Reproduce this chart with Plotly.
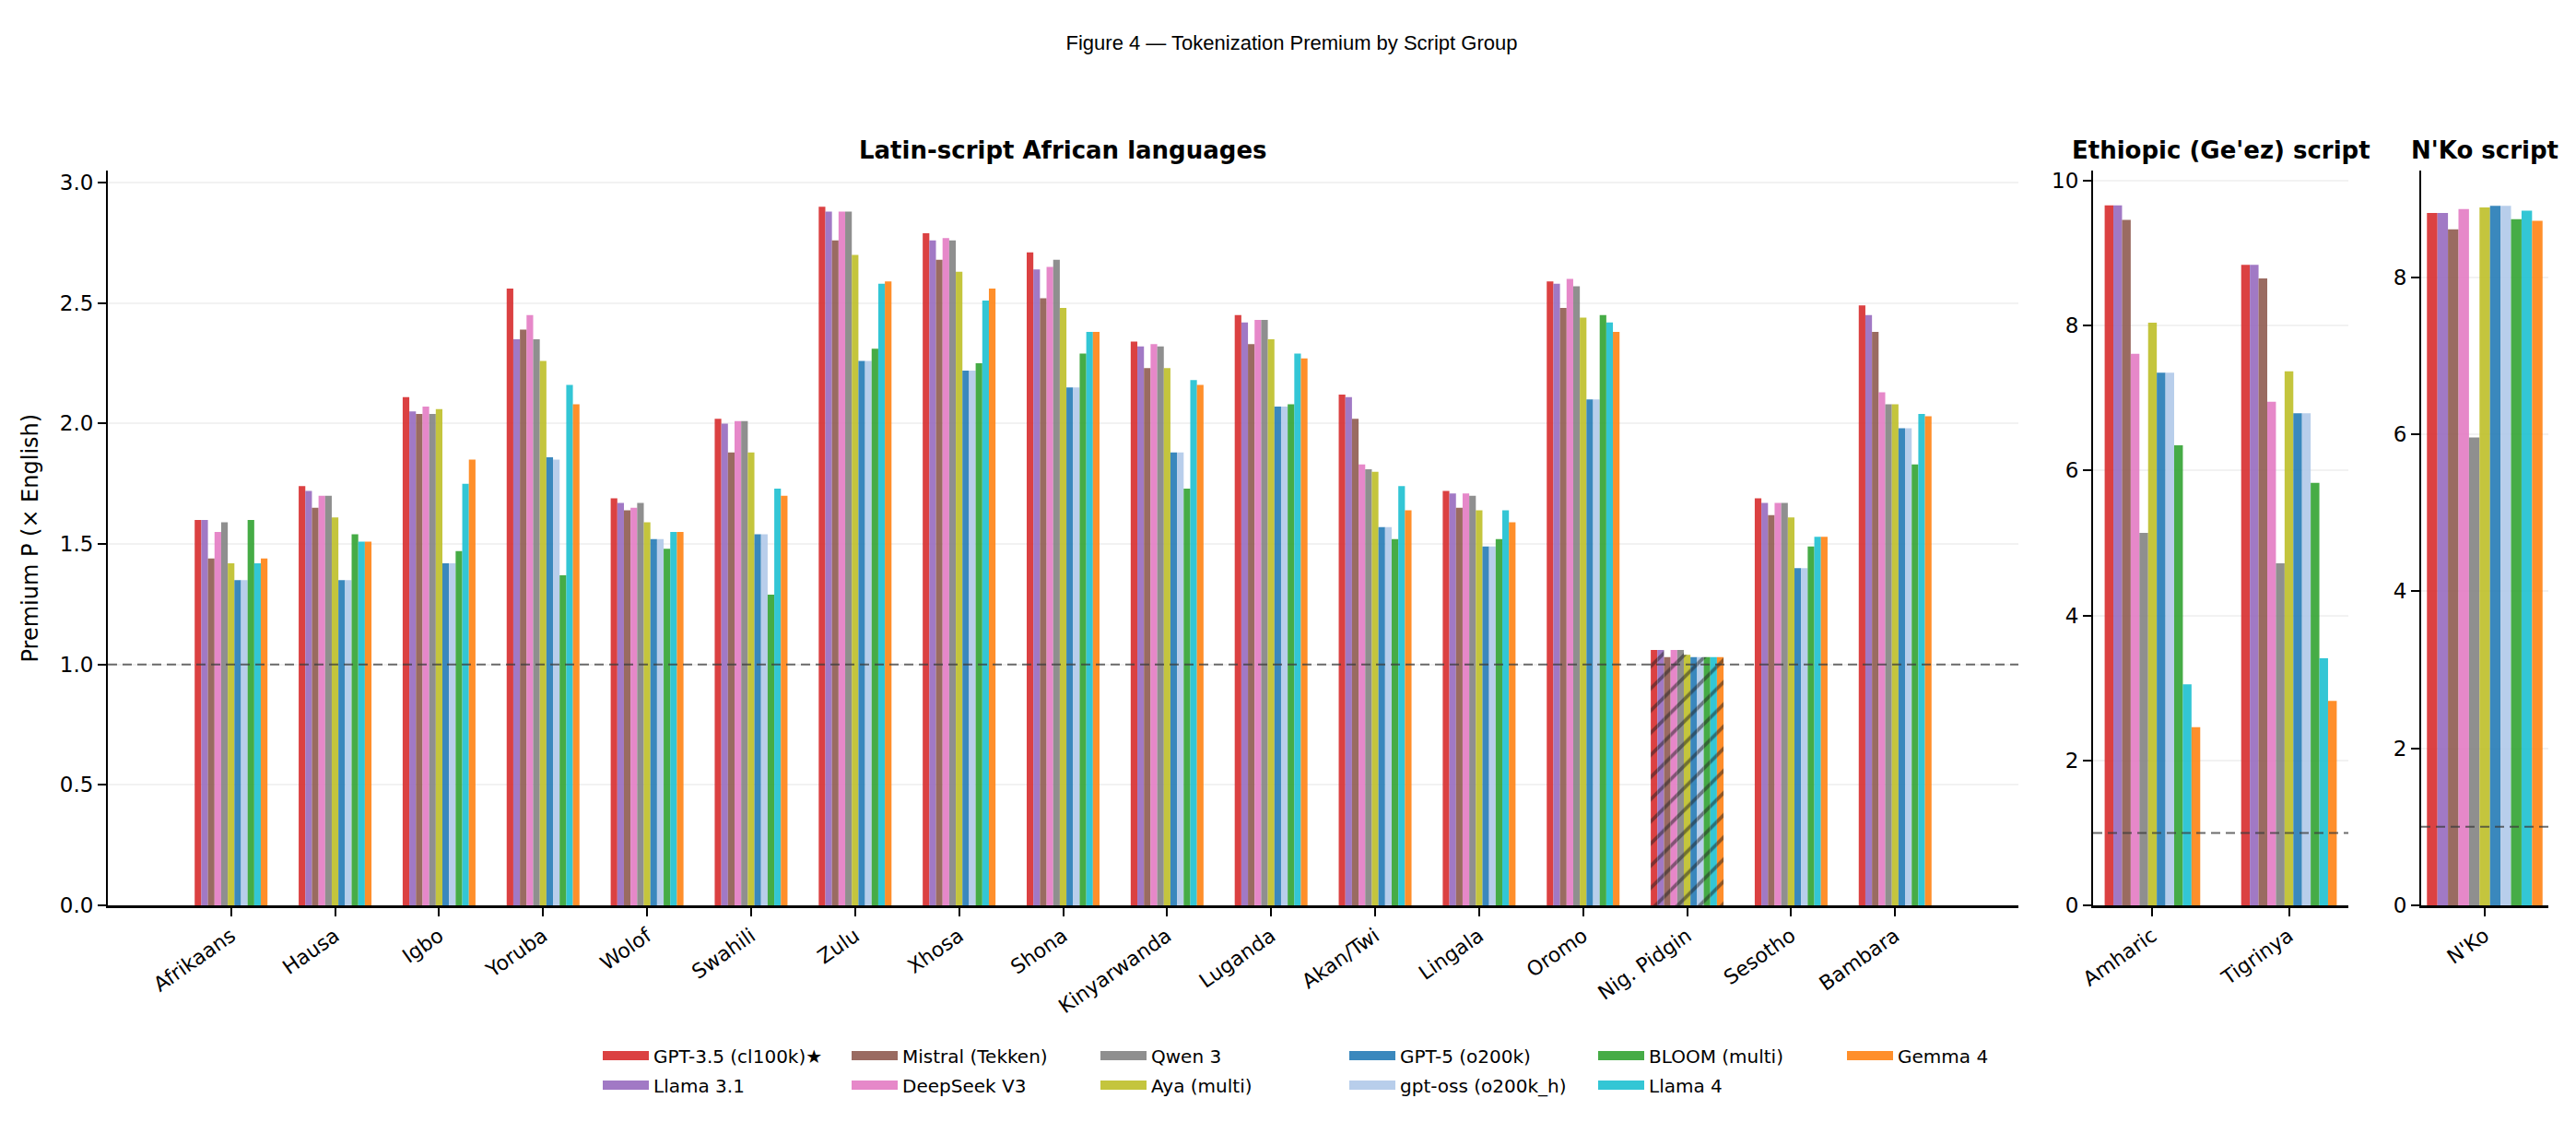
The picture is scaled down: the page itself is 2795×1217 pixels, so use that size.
import plotly.graph_objects as go
from plotly.subplots import make_subplots

# languages per script panel
latin_langs = ["Afrikaans", "Hausa", "Igbo", "Yoruba", "Wolof", "Swahili", "Zulu", "Xhosa",
               "Shona", "Kinyarwanda", "Luganda", "Akan/Twi", "Lingala", "Oromo",
               "Nig. Pidgin", "Sesotho", "Bambara"]
ethiopic_langs = ["Amharic", "Tigrinya"]
nko_langs = ["N'Ko"]

models = ["GPT-3.5 (cl100k)★", "Llama 3.1", "Mistral (Tekken)", "DeepSeek V3", "Qwen 3",
          "Aya (multi)", "GPT-5 (o200k)", "gpt-oss (o200k_h)", "BLOOM (multi)", "Llama 4", "Gemma 4"]
colors = ["#d62728", "#9467bd", "#8c564b", "#e377c2", "#7f7f7f", "#bcbd22",
          "#1f77b4", "#aec7e8", "#2ca02c", "#17becf", "#ff7f0e"]

# premium values: 17 Latin languages, then Amharic, Tigrinya, then N'Ko
gpt35 = [1.60, 1.74, 2.11, 2.56, 1.69, 2.02, 2.90, 2.79, 2.71, 2.34, 2.45, 2.12, 1.72, 2.59, 1.06, 1.69, 2.49, 9.66, 8.84, 8.82]
llama31 = [1.60, 1.72, 2.05, 2.35, 1.67, 2.00, 2.88, 2.76, 2.64, 2.32, 2.42, 2.11, 1.71, 2.58, 1.06, 1.67, 2.45, 9.66, 8.84, 8.82]
mistral = [1.44, 1.65, 2.04, 2.39, 1.64, 1.88, 2.76, 2.68, 2.52, 2.23, 2.33, 2.02, 1.65, 2.48, 1.03, 1.62, 2.38, 9.46, 8.65, 8.61]
deepseek = [1.55, 1.70, 2.07, 2.45, 1.65, 2.01, 2.88, 2.77, 2.65, 2.33, 2.43, 1.83, 1.71, 2.60, 1.06, 1.67, 2.13, 7.61, 6.95, 8.87]
qwen3 = [1.59, 1.70, 2.04, 2.35, 1.67, 2.01, 2.88, 2.76, 2.68, 2.32, 2.43, 1.81, 1.70, 2.57, 1.06, 1.67, 2.08, 5.14, 4.72, 5.96]
aya = [1.42, 1.61, 2.06, 2.26, 1.59, 1.88, 2.70, 2.63, 2.48, 2.23, 2.35, 1.80, 1.64, 2.44, 1.04, 1.61, 2.08, 8.04, 7.37, 8.89]
gpt5 = [1.35, 1.35, 1.42, 1.86, 1.52, 1.54, 2.26, 2.22, 2.15, 1.88, 2.07, 1.57, 1.49, 2.10, 1.03, 1.40, 1.98, 7.35, 6.79, 8.91]
gptoss = [1.35, 1.35, 1.42, 1.85, 1.52, 1.54, 2.26, 2.22, 2.15, 1.88, 2.07, 1.57, 1.49, 2.10, 1.03, 1.40, 1.98, 7.35, 6.79, 8.91]
bloom = [1.60, 1.54, 1.47, 1.37, 1.48, 1.29, 2.31, 2.25, 2.29, 1.73, 2.08, 1.52, 1.52, 2.45, 1.03, 1.49, 1.83, 6.35, 5.83, 8.74]
llama4 = [1.42, 1.51, 1.75, 2.16, 1.55, 1.73, 2.58, 2.51, 2.38, 2.18, 2.29, 1.74, 1.64, 2.42, 1.03, 1.53, 2.04, 3.05, 3.41, 8.85]
gemma4 = [1.44, 1.51, 1.85, 2.08, 1.55, 1.70, 2.59, 2.56, 2.38, 2.16, 2.27, 1.64, 1.59, 2.38, 1.03, 1.53, 2.03, 2.46, 2.82, 8.72]

series = [gpt35, llama31, mistral, deepseek, qwen3, aya, gpt5, gptoss, bloom, llama4, gemma4]

# page is 2795x1217; the html body adds an 8px margin, so the figure is a bit smaller
W, H = 2795, 1217
OFF = 8
FW, FH = W - OFF, H - OFF
FONT = "DejaVu Sans"
ALPHA = 0.88


def px_x(p):
    return (p - OFF) / FW


def px_y(p):
    return 1 - (p - OFF) / FH


fig = make_subplots(rows=1, cols=3)

n_lat = len(latin_langs)
n_eth = len(ethiopic_langs)
hatch = ["/" if lang == "Nig. Pidgin" else "" for lang in latin_langs]

for i, (name, color, vals) in enumerate(zip(models, colors, series)):
    panels = [
        (latin_langs, vals[:n_lat], 1),
        (ethiopic_langs, vals[n_lat:n_lat + n_eth], 2),
        (nko_langs, vals[n_lat + n_eth:], 3),
    ]
    for langs, v, col in panels:
        marker = dict(color=color, opacity=ALPHA, line=dict(width=0))
        if col == 1:
            marker["pattern"] = dict(shape=hatch, fgcolor="black", size=17, solidity=0.22)
        fig.add_trace(go.Bar(x=langs, y=v, name=name, marker=marker,
                             legendgroup=name, showlegend=False),
                      row=1, col=col)
    # legend-only entry drawn as a wide patch
    fig.add_trace(go.Scatter(x=[None], y=[None], mode="lines", name=name, legendgroup=name,
                             line=dict(color=color, width=16), opacity=ALPHA,
                             legend="legend" if i % 2 == 0 else "legend2"),
                  row=1, col=1)

# axes geometry (page pixels -> paper fractions)
x_doms = [(px_x(117), px_x(2190)), (px_x(2271), px_x(2548)), (px_x(2627), px_x(2765))]
y_dom = (px_y(982), px_y(185))
x_ranges = [[-1.185, n_lat - 1 + 1.185], [-0.435, 1.435], [-0.385, 0.385]]
y_ranges = [[0, 3.05], [0, 10.14], [0, 9.36]]
y_ticks = [[0, 0.5, 1.0, 1.5, 2.0, 2.5, 3.0], [0, 2, 4, 6, 8, 10], [0, 2, 4, 6, 8]]

for k in range(3):
    sx = "xaxis" if k == 0 else f"xaxis{k + 1}"
    sy = "yaxis" if k == 0 else f"yaxis{k + 1}"
    fig.layout[sx].update(domain=x_doms[k], range=x_ranges[k], type="category", automargin=False,
                          showline=True, linecolor="black", linewidth=2.5,
                          ticks="outside", ticklen=9, tickwidth=2, tickcolor="black",
                          tickangle=-35, showgrid=False, zeroline=False,
                          tickfont=dict(family=FONT, size=22, color="black"))
    fig.layout[sy].update(domain=y_dom, range=y_ranges[k], tickvals=y_ticks[k], automargin=False,
                          tickformat=".1f" if k == 0 else "d",
                          showline=True, linecolor="black", linewidth=2,
                          ticks="outside", ticklen=9, tickwidth=2, tickcolor="black",
                          showgrid=True, gridcolor="#f2f2f2", gridwidth=1.5, zeroline=False,
                          tickfont=dict(family=FONT, size=23, color="black"))
    xr = "x" if k == 0 else f"x{k + 1}"
    yr = "y" if k == 0 else f"y{k + 1}"
    fig.add_shape(type="line", xref=f"{xr} domain", yref=yr, x0=0, x1=1, y0=1, y1=1,
                  line=dict(color="rgba(60,60,60,0.75)", width=2, dash="10px,6px"))

fig.add_annotation(text="Premium P (× English)", xref="paper", yref="paper",
                   x=px_x(32), y=(y_dom[0] + y_dom[1]) / 2, textangle=-90,
                   xanchor="center", yanchor="middle", showarrow=False,
                   font=dict(family=FONT, size=24, color="black"))

panel_titles = ["Latin-script African languages", "Ethiopic (Ge'ez) script", "N'Ko script"]
for k, t in enumerate(panel_titles):
    fig.add_annotation(text=f"<b>{t}</b>", xref="paper", yref="paper",
                       x=(x_doms[k][0] + x_doms[k][1]) / 2, y=px_y(163),
                       xanchor="center", yanchor="middle", showarrow=False,
                       font=dict(family=FONT, size=26, color="black"))

legend_common = dict(orientation="h", xanchor="left", yanchor="middle", entrywidth=205,
                     itemwidth=50, font=dict(family=FONT, size=20, color="black"),
                     bgcolor="rgba(0,0,0,0)", traceorder="normal")

fig.update_layout(
    width=FW, height=FH,
    margin=dict(l=0, r=0, t=0, b=0),
    paper_bgcolor="white", plot_bgcolor="white",
    barmode="group", bargap=0.3, bargroupgap=0,
    title=dict(text="Figure 4 — Tokenization Premium by Script Group", x=px_x(W / 2 + 4),
               xanchor="center", y=px_y(46), yanchor="middle",
               font=dict(family="Liberation Sans", size=22, color="black")),
    legend=dict(x=px_x(649), y=px_y(1145), **legend_common),
    legend2=dict(x=px_x(649), y=px_y(1177), **legend_common),
)

fig.write_html("out.html")
